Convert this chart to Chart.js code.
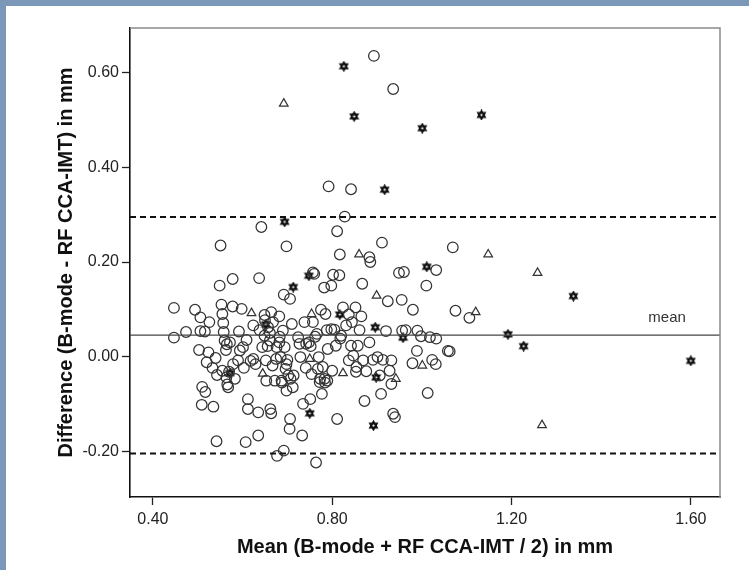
<!DOCTYPE html>
<html>
<head>
<meta charset="utf-8">
<script src="https://cdn.jsdelivr.net/npm/chart.js@4/dist/chart.umd.min.js"></script>
<style>
  html,body{margin:0;padding:0;background:#fff;}
  #wrap{position:relative;width:749px;height:570px;overflow:hidden;background:#fff;}
  #bt{position:absolute;left:0;top:0;width:749px;height:6px;background:#7b98b9;}
  #bl{position:absolute;left:0;top:0;width:6px;height:570px;background:#7b98b9;}
  canvas{position:absolute;left:0;top:0;}
</style>
</head>
<body>
<div id="wrap"><div id="bt"></div><div id="bl"></div><canvas id="c" width="749" height="570"></canvas></div>
<script>
// ---- data ----
const xTickValues = [0.40, 0.80, 1.20, 1.60];
const yTickValues = [-0.20, 0.00, 0.20, 0.40, 0.60];
const meanDiff = 0.0455;
const upperLoA = 0.295;
const lowerLoA = -0.205;
const xRange = [0.349, 1.665];
const yRange = [-0.297, 0.695];

const circleMean = [
0.893,0.936,0.792,0.842,0.828,0.642,0.811,0.551,0.698,0.911,1.069,0.817,0.883,0.885,1.032,0.949,0.960,0.757,0.760,0.802,0.816,0.578,0.637,0.549,0.782,0.798,0.867,1.010,0.692,0.706,0.924,0.955,
1.075,1.106,0.964,0.990,0.998,1.018,1.058,1.062,0.989,0.979,1.023,1.031,1.013,0.980,
0.447,0.447,0.474,0.494,0.503,0.506,0.506,0.516,0.520,0.524,0.526,0.510,0.517,0.509,0.535,0.542,0.533,0.540,0.543,
0.553,0.555,0.557,0.558,0.560,0.563,0.555,0.564,0.568,0.572,0.578,0.579,0.583,0.590,0.594,0.598,0.601,0.603,0.609,0.612,0.612,0.607,0.635,0.635,0.624,0.624,
0.638,0.644,0.649,0.649,0.652,0.653,0.657,0.661,0.662,0.664,0.664,0.667,0.668,0.672,0.676,0.677,0.682,0.683,0.685,0.687,0.690,0.692,0.694,0.696,0.698,0.700,0.702,0.706,0.705,0.710,0.712,0.714,
0.724,0.727,0.729,0.733,0.735,0.738,0.742,0.748,0.751,0.754,0.757,0.764,0.766,0.768,0.770,0.772,0.775,0.777,0.779,0.783,0.785,0.788,0.790,0.798,0.800,0.808,0.811,
0.820,0.824,0.831,0.837,0.837,0.842,0.844,0.847,0.852,0.854,0.857,0.861,0.865,0.869,0.872,0.876,0.883,0.891,0.901,0.906,0.909,0.913,0.920,0.928,0.932,0.932,0.936,0.940,0.956,1.032,
0.565,0.570,0.566,0.592,0.618,0.629,0.650,0.656,0.661,0.675,0.682,0.688,0.698,0.707,0.741,0.752,0.762,0.773,0.784,0.789,0.805,0.818,0.853
];
const circleDiff = [
0.636,0.566,0.360,0.354,0.296,0.274,0.265,0.235,0.233,0.241,0.231,0.216,0.210,0.200,0.183,0.177,0.179,0.178,0.175,0.173,0.172,0.164,0.166,0.150,0.146,0.150,0.154,0.150,0.131,0.122,0.117,0.120,
0.097,0.082,0.056,0.055,0.043,0.041,0.012,0.011,0.012,-0.014,-0.007,-0.016,-0.077,0.099,
0.103,0.040,0.052,0.099,0.014,0.083,0.054,0.053,-0.012,0.009,0.073,-0.064,-0.075,-0.102,-0.106,-0.179,-0.024,-0.003,-0.039,
0.110,0.090,0.071,0.052,0.034,0.014,-0.030,-0.044,-0.065,0.030,0.106,-0.016,-0.047,-0.008,0.013,0.101,0.020,-0.024,0.035,-0.090,-0.111,-0.181,-0.167,-0.118,-0.005,0.066,
0.056,0.020,0.088,0.044,-0.008,-0.051,0.062,0.034,-0.111,-0.120,0.094,-0.019,0.073,-0.051,0.020,-0.210,0.085,0.042,-0.001,-0.051,0.055,-0.199,0.020,-0.026,-0.072,-0.007,-0.040,-0.132,-0.153,0.069,-0.065,-0.040,
0.041,0.027,-0.001,-0.167,-0.100,0.073,0.027,0.030,-0.090,-0.037,0.073,-0.224,0.048,-0.026,-0.001,-0.054,0.099,-0.079,-0.022,-0.047,0.090,0.056,0.016,0.058,-0.030,0.023,-0.132,
0.044,0.104,0.066,0.089,-0.008,0.023,0.073,0.002,0.104,-0.022,0.023,0.056,0.085,-0.008,-0.094,-0.031,0.030,-0.007,-0.001,-0.040,-0.079,-0.007,0.054,-0.030,-0.008,-0.058,-0.121,-0.128,0.055,0.038,
0.026,-0.032,-0.059,0.053,-0.009,-0.016,0.077,0.022,0.050,-0.005,0.030,-0.055,-0.016,-0.047,-0.024,0.022,0.042,-0.047,-0.055,-0.051,0.057,0.038,-0.032
];
const triangleMean = [0.692,0.860,1.148,1.258,0.899,0.620,0.754,1.120,1.001,1.268,0.824,0.942,0.750,0.645];
const triangleDiff = [0.535,0.216,0.216,0.177,0.129,0.092,0.090,0.094,-0.019,-0.145,-0.035,-0.047,-0.005,-0.036];
const starMean = [0.826,0.849,1.133,1.001,0.917,0.694,1.011,0.748,0.713,1.338,0.817,0.896,0.958,1.192,1.227,1.600,0.898,0.750,0.892,0.652,0.572];
const starDiff = [0.614,0.508,0.511,0.483,0.353,0.285,0.190,0.171,0.147,0.128,0.089,0.062,0.040,0.047,0.022,-0.009,-0.044,-0.120,-0.146,0.068,-0.035];

const xTitle = 'Mean (B-mode + RF CCA-IMT / 2) in mm';
const yTitle = 'Difference (B-mode - RF CCA-IMT) in mm';
const meanLabel = 'mean';

// ---- build ----
const pts = (xs, ys) => xs.map((x, i) => ({x, y: ys[i]}));
const hLine = v => [{x: xRange[0], y: v}, {x: xRange[1], y: v}];

function makeStar(){
  const c = document.createElement('canvas'); c.width = 11; c.height = 11;
  const g = c.getContext('2d'); g.translate(5.5, 5.5);
  g.strokeStyle = '#111'; g.lineWidth = 1.8; g.lineJoin = 'miter';
  for (let k = 0; k < 2; k++) {
    g.beginPath();
    for (let i = 0; i < 3; i++) {
      const a = -Math.PI/2 + k*Math.PI + i*2*Math.PI/3;
      const px = 4.0*Math.cos(a), py = 4.0*Math.sin(a);
      if (i) g.lineTo(px, py); else g.moveTo(px, py);
    }
    g.closePath(); g.stroke();
  }
  return c;
}
const starImg = makeStar();

const FONT = "'Liberation Sans', Arial, sans-serif";

const framePlugin = {
  id: 'frame',
  afterDraw(chart) {
    const {ctx, chartArea: a, scales} = chart;
    ctx.save();
    ctx.strokeStyle = '#8a8a8a'; ctx.lineWidth = 1.5;
    ctx.beginPath();
    ctx.moveTo(a.left, a.top); ctx.lineTo(a.right, a.top); ctx.lineTo(a.right, a.bottom);
    ctx.stroke();
    ctx.fillStyle = '#333';
    ctx.font = '15px ' + FONT;
    ctx.textAlign = 'center'; ctx.textBaseline = 'middle';
    ctx.fillText(meanLabel, scales.x.getPixelForValue(1.547), scales.y.getPixelForValue(meanDiff) - 17);
    ctx.restore();
  }
};

new Chart(document.getElementById('c'), {
  type: 'scatter',
  data: {
    datasets: [
      {type:'line', data: hLine(meanDiff), borderColor:'#444', borderWidth:1.3, pointRadius:0, showLine:true, fill:false},
      {type:'line', data: hLine(upperLoA), borderColor:'#111', borderWidth:2, borderDash:[6,4], pointRadius:0, showLine:true, fill:false},
      {type:'line', data: hLine(lowerLoA), borderColor:'#111', borderWidth:2, borderDash:[6,4], pointRadius:0, showLine:true, fill:false},
      {data: pts(circleMean, circleDiff), pointStyle:'circle', pointRadius:5.3, borderColor:'#333', borderWidth:1.25, backgroundColor:'rgba(0,0,0,0)'},
      {data: pts(triangleMean, triangleDiff), pointStyle:'triangle', pointRadius:5, borderColor:'#333', borderWidth:1.2, backgroundColor:'rgba(0,0,0,0)'},
      {data: pts(starMean, starDiff), pointStyle: starImg, pointRadius:5}
    ]
  },
  options: {
    responsive:false, animation:false, devicePixelRatio:1,
    layout:{padding:{left:0, top:28, right:29, bottom:0}},
    plugins:{legend:{display:false}, tooltip:{enabled:false}},
    scales:{
      x:{
        type:'linear', min:xRange[0], max:xRange[1],
        afterBuildTicks: s => { s.ticks = xTickValues.map(v => ({value:v})); },
        afterFit: s => { s.height = 73; },
        ticks:{callback: v => Number(v).toFixed(2), font:{family:FONT, size:16}, color:'#222', padding:5, maxRotation:0, autoSkip:false},
        grid:{drawOnChartArea:false, drawTicks:true, tickLength:8, tickColor:'#222', tickWidth:1.3},
        border:{display:true, color:'#111', width:1.6},
        title:{display:true, text:xTitle, font:{family:FONT, size:20, weight:'bold'}, color:'#111', padding:{top:0, bottom:11}}
      },
      y:{
        type:'linear', min:yRange[0], max:yRange[1],
        afterBuildTicks: s => { s.ticks = yTickValues.map(v => ({value:v})); },
        afterFit: s => { s.width = 130; },
        ticks:{callback: v => Number(v).toFixed(2), font:{family:FONT, size:16}, color:'#222', padding:3, autoSkip:false},
        grid:{drawOnChartArea:false, drawTicks:true, tickLength:8, tickColor:'#222', tickWidth:1.3},
        border:{display:true, color:'#111', width:1.6},
        title:{display:true, text:yTitle, font:{family:FONT, size:20, weight:'bold'}, color:'#111', padding:{top:54, bottom:0}}
      }
    }
  },
  plugins:[framePlugin]
});
</script>
</body>
</html>
